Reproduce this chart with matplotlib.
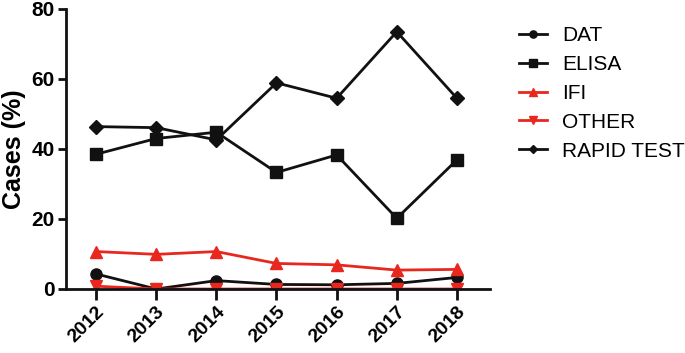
import matplotlib
matplotlib.use("Agg")
from matplotlib import pyplot as plt

plt.rcParams['font.family'] = ['Liberation Sans', 'DejaVu Sans']

years = [2012, 2013, 2014, 2015, 2016, 2017, 2018]
dat = [4.3, 0.0, 2.4, 1.3, 1.2, 1.6, 3.3]
elisa = [38.5, 43.0, 44.8, 33.3, 38.3, 20.2, 36.9]
ifi = [10.7, 9.9, 10.7, 7.3, 6.9, 5.4, 5.6]
other = [0.8, 0.0, 0.0, 0.0, 0.0, 0.0, 0.0]
rapid = [46.4, 46.1, 42.6, 58.9, 54.5, 73.5, 54.5]

RED = '#e8281e'
BLACK = '#111111'

fig = plt.figure(figsize=(6.85, 3.53), dpi=100)
ax = fig.add_axes([66/685, 64/353, 424/685, 280/353])

ax.plot(years, dat, color=BLACK, lw=2, marker='o', ms=8, label='DAT')
ax.plot(years, elisa, color=BLACK, lw=2, marker='s', ms=8, label='ELISA')
ax.plot(years, ifi, color=RED, lw=2, marker='^', ms=9, label='IFI')
ax.plot(years, other, color=RED, lw=2, marker='v', ms=9, label='OTHER')
ax.plot(years, rapid, color=BLACK, lw=2, marker='D', ms=7, label='RAPID TEST')

ax.set_xlim(2011.5, 2018.55)
ax.set_ylim(0, 80)
ax.set_yticks([0, 20, 40, 60, 80])
ax.set_xticks(years)
ax.set_xticklabels([str(y) for y in years], rotation=45, ha='right',
                   rotation_mode='anchor', fontweight='bold', fontsize=14)
for lab in ax.get_yticklabels():
    lab.set_fontweight('bold')
    lab.set_fontsize(15)
ax.set_ylabel('Cases (%)', fontsize=18, fontweight='bold', labelpad=4)

for s in ['top', 'right']:
    ax.spines[s].set_visible(False)
for s in ['left', 'bottom']:
    ax.spines[s].set_linewidth(2)
    ax.spines[s].set_color(BLACK)
ax.tick_params(axis='y', width=2, length=6, color=BLACK, pad=2)
ax.tick_params(axis='x', width=2, length=8, color=BLACK, pad=2)

ax.legend(loc='upper left', bbox_to_anchor=(1.025, 1.005), frameon=False,
          fontsize=15, handlelength=1.35, handletextpad=0.7,
          labelspacing=0.47, markerscale=0.65)

fig.savefig('out.png', dpi=100)
